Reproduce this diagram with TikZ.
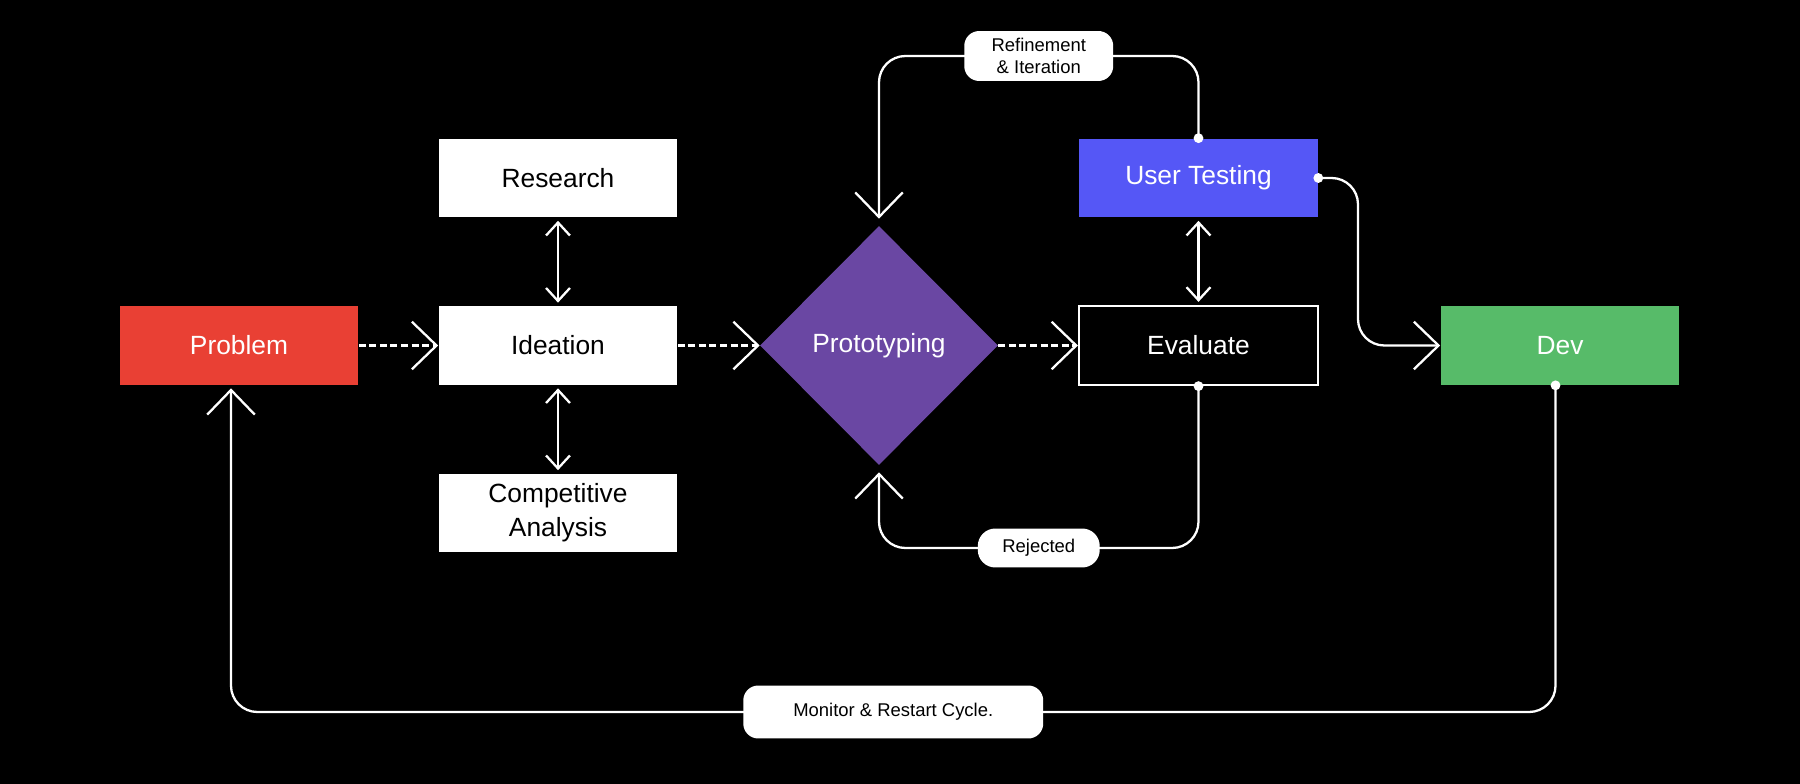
\documentclass[tikz,border=0pt]{standalone}
\usepackage{fontspec}
\setmainfont{Liberation Sans}
\usetikzlibrary{shapes.geometric, arrows.meta}

\definecolor{probred}{HTML}{E94034}
\definecolor{protopurple}{HTML}{6A47A3}
\definecolor{testblue}{HTML}{5557F6}
\definecolor{devgreen}{HTML}{57BB69}

\begin{document}
\begin{tikzpicture}[x=0.02cm, y=-0.02cm,
    box/.style={rectangle, minimum width=4.78cm, minimum height=1.58cm, inner sep=0pt,
        align=center, font=\fontsize{15}{19.5}\selectfont},
    tag/.style={rectangle, fill=white, text=black, rounded corners=8.5pt, inner sep=0pt,
        align=center, font=\fontsize{10.5}{12.5}\selectfont},
    flow/.style={white, line width=1.3pt},
    dashflow/.style={flow, dash pattern=on 4pt off 2pt},
    bigtip/.style={-{Straight Barb[length=14pt, width=27pt]}},
    smalltips/.style={{Straight Barb[length=7.4pt, width=13.6pt]}-{Straight Barb[length=7.4pt, width=13.6pt]},
        shorten <=1.7pt, shorten >=1.7pt},
    dotbig/.style={{Circle[length=5.5pt]}-{Straight Barb[length=14pt, width=27pt]}, shorten <=-2.75pt},
    loop/.style={rounded corners=15pt}
]
    % Background, fixes the page size
    \fill[black] (0,0) rectangle (1800,784);

    % Main row
    \node[box, fill=probred, text=white] (prob) at (239,345.5) {Problem};
    \node[box, fill=white, text=black] (idea) at (558,345.5) {Ideation};
    \node[diamond, fill=protopurple, text=white, inner sep=0pt, minimum width=4.76cm,
        minimum height=4.78cm, font=\fontsize{15}{19.5}\selectfont] (proto) at (879,345.5) {Prototyping};
    \node[box, fill=black, draw=white, line width=1.3pt, text=white] (eval) at (1198.5,345.5) {Evaluate};
    \node[box, fill=devgreen, text=white] (dev) at (1560,345.5) {Dev};

    % Boxes above and below
    \node[box, fill=white, text=black] (res) at (558,178) {Research};
    \node[box, fill=white, text=black] (comp) at (558,513) {Competitive\\Analysis};
    \node[box, fill=testblue, text=white] (ut) at (1198.5,178) {User Testing};

    % Rows and bends of the loops
    \coordinate (toprow) at (0,56);
    \coordinate (rejrow) at (0,548);
    \coordinate (cycrow) at (0,712);
    \coordinate (bend) at (1358,0);

    % Dashed flow
    \draw[dashflow, bigtip] (prob) -- (idea);
    \draw[dashflow, bigtip] (idea) -- (proto.west);
    \draw[dashflow, bigtip] (proto.east) -- (eval);

    % Two-way links
    \draw[flow, smalltips] (res) -- (idea);
    \draw[flow, smalltips] (idea) -- (comp);
    \draw[flow, smalltips] (ut) -- (eval);

    % Loops back to prototyping
    \draw[flow, dotbig, loop, shorten >=4pt] (ut.north) -- (ut.north |- toprow)
        -- node[tag, minimum width=2.98cm, minimum height=1cm] (reftag) {Refinement\\\& Iteration}
        (proto.north |- toprow) -- (proto.north);
    \draw[flow, dotbig, loop, shorten >=4pt] (eval.south) -- (eval.south |- rejrow)
        -- node[tag, minimum width=2.44cm, minimum height=0.78cm, rounded corners=10pt] (rejtag) {Rejected}
        (proto.south |- rejrow) -- (proto.south);

    % On to development
    \draw[flow, dotbig, loop] (ut.east) -- (ut.east -| bend) -- (bend |- dev.west) -- (dev.west);

    % Back to the start
    \draw[flow, dotbig, loop, shorten >=1.7pt] ([xshift=-0.09cm]dev.south) -- ([xshift=-0.09cm]dev.south |- cycrow)
        -- node[tag, minimum width=6cm, minimum height=1.06cm] (cyctag) {Monitor \& Restart Cycle.}
        ([xshift=-0.16cm]prob.south |- cycrow) -- ([xshift=-0.16cm]prob.south);
\end{tikzpicture}
\end{document}
